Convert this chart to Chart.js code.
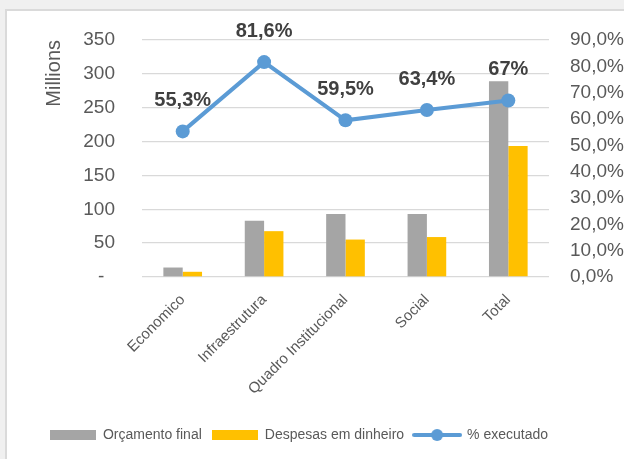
<!DOCTYPE html>
<html>
<head>
<meta charset="utf-8">
<script src="https://cdn.jsdelivr.net/npm/chart.js@4.4.0/dist/chart.umd.min.js"></script>
<style>
  html, body { margin: 0; padding: 0; background: #f0f0f0; overflow: hidden; }
  #frame { position: absolute; left: 5px; top: 9px; width: 700px; height: 520px;
           background: #fff; border-left: 2px solid #dadada; border-top: 2px solid #dadada; }
  #myChart { position: absolute; left: 0; top: 0; }
</style>
</head>
<body>
<div id="frame"></div>
<canvas id="myChart" width="624" height="459"></canvas>
<script>
const categories = ['Economico', 'Infraestrutura', 'Quadro Institucional', 'Social', 'Total'];
const orcamentoFinal = [14, 83, 93, 93, 289];
const despesasDinheiro = [7.7, 67.7, 55.3, 59, 193.5];
const percentExecutado = [55.3, 81.6, 59.5, 63.4, 67];

const FONT = "'Liberation Sans', Arial, sans-serif";
const TXT = '#595959';

function fmtPct(v) {
    return Number.isInteger(v) ? v + '%' : v.toFixed(1).replace('.', ',') + '%';
}

// legend swatches
function rectSwatch(color) {
    const c = document.createElement('canvas');
    c.width = 46; c.height = 10;
    const g = c.getContext('2d');
    g.fillStyle = color;
    g.fillRect(0, 0, 46, 10);
    return c;
}
function lineSwatch(color) {
    const c = document.createElement('canvas');
    c.width = 50; c.height = 14;
    const g = c.getContext('2d');
    g.strokeStyle = color;
    g.lineWidth = 4;
    g.lineCap = 'round';
    g.beginPath(); g.moveTo(2, 7); g.lineTo(48, 7); g.stroke();
    g.fillStyle = color;
    g.beginPath(); g.arc(25, 7, 6, 0, Math.PI * 2); g.fill();
    return c;
}
const swatches = [rectSwatch('#a5a5a5'), rectSwatch('#ffc000'), lineSwatch('#5b9bd5')];

const pctLabels = {
    id: 'pctLabels',
    afterLayout(chart) {
        // legend sits a bit left of the canvas centre in the original
        chart.legend.left -= 13;
        chart.legend.right -= 13;
    },
    afterDatasetsDraw(chart) {
        const meta = chart.getDatasetMeta(2);
        const ctx = chart.ctx;
        ctx.save();
        ctx.font = 'bold 20px ' + FONT;
        ctx.fillStyle = '#404040';
        ctx.textAlign = 'center';
        ctx.textBaseline = 'middle';
        meta.data.forEach((pt, i) => {
            ctx.fillText(fmtPct(percentExecutado[i]), pt.x, pt.y - 31);
        });
        ctx.restore();
    }
};

const ctx = document.getElementById('myChart');
const myChart = new Chart(ctx, {
    type: 'bar',
    data: {
        labels: categories,
        datasets: [{
            label: 'Orçamento final',
            data: orcamentoFinal,
            backgroundColor: '#a5a5a5',
            yAxisID: 'y',
            order: 1
        }, {
            label: 'Despesas em dinheiro',
            data: despesasDinheiro,
            backgroundColor: '#ffc000',
            yAxisID: 'y',
            order: 1
        }, {
            type: 'line',
            label: '% executado',
            data: percentExecutado,
            borderColor: '#5b9bd5',
            backgroundColor: '#5b9bd5',
            borderWidth: 4,
            pointRadius: 7,
            pointBorderWidth: 0,
            pointBackgroundColor: '#5b9bd5',
            tension: 0,
            yAxisID: 'y1',
            order: 0
        }]
    },
    options: {
        responsive: false,
        animation: false,
        layout: { padding: { left: 0, right: 0, top: 40, bottom: 7 } },
        datasets: { bar: { barPercentage: 1, categoryPercentage: 0.475 } },
        scales: {
            x: {
                offset: true,
                grid: { display: false },
                border: { display: false },
                ticks: {
                    color: TXT, font: { family: FONT, size: 15 },
                    minRotation: 45, maxRotation: 45, padding: 6
                },
                afterFit(scale) { scale.height = 141; }
            },
            y: {
                position: 'left',
                min: 0, max: 350,
                ticks: {
                    stepSize: 50, color: TXT, font: { family: FONT, size: 19 }, padding: 27,
                    callback: v => v === 0 ? '-  ' : v
                },
                grid: { color: '#d9d9d9', lineWidth: 1.3, drawTicks: false },
                border: { display: false },
                title: {
                    display: true, text: 'Millions', align: 'end', color: TXT,
                    font: { family: FONT, size: 20 }, padding: { top: 42, bottom: 0 }
                },
                afterFit(scale) { scale.width = 142; }
            },
            y1: {
                position: 'right',
                min: 0, max: 90,
                ticks: {
                    stepSize: 10, color: TXT, font: { family: FONT, size: 19 }, padding: 21,
                    callback: v => v.toFixed(1).replace('.', ',') + '%'
                },
                grid: { display: false, drawTicks: false },
                border: { display: false },
                afterFit(scale) { scale.width = 75; }
            }
        },
        plugins: {
            tooltip: { enabled: false },
            legend: {
                position: 'bottom',
                labels: {
                    usePointStyle: true,
                    pointStyleWidth: 46,
                    padding: 10,
                    color: TXT,
                    font: { family: FONT, size: 14 },
                    generateLabels(chart) {
                        const items = Chart.defaults.plugins.legend.labels.generateLabels(chart);
                        items.sort((a, b) => a.datasetIndex - b.datasetIndex);
                        items.forEach(it => { it.pointStyle = swatches[it.datasetIndex]; });
                        return items;
                    }
                }
            }
        }
    },
    plugins: [pctLabels]
});
</script>
</body>
</html>
